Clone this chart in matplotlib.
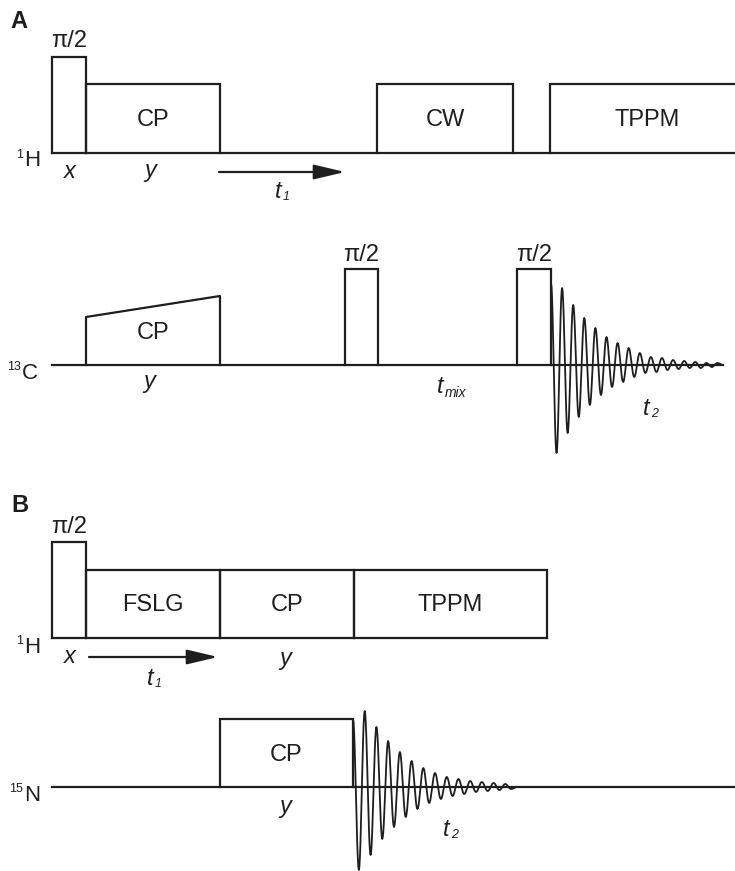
import numpy as np
import matplotlib.pyplot as plt

plt.rcParams['font.family'] = ['Liberation Sans', 'DejaVu Sans']

INK = '#1e1e1e'

# channel baselines (drawing units, y grows downward)
base_a_h, base_a_c = 153, 365
base_b_h, base_b_n = 638, 787

# rectangular pulses: (start, end, height above baseline, label)
a_h_pulses = [(52, 86, 96, ''), (86, 220, 69, 'CP'), (377, 513, 69, 'CW'), (550, 745, 69, 'TPPM')]
a_c_pulses = [(345, 378, 96, ''), (517, 551, 96, '')]
a_c_ramp = (86, 220, 48, 69)  # start, end, height left, height right
b_h_pulses = [(52, 86, 96, ''), (86, 220, 68, 'FSLG'), (220, 354, 68, 'CP'), (354, 547, 68, 'TPPM')]
b_n_pulses = [(220, 353, 68, 'CP')]

# successive extrema of the free induction decays (height above baseline)
fid_a = [82, -88, 77, -68, 60, -52, 47, -40, 37, -30, 28, -22, 22, -17, 17, -12,
         12, -8, 8, -7, 7, -5, 5, -4, 4, -3, 3, -3, 2, -2, 2, 0]
fid_b = [68, -83, 76, -68, 60, -52, 46, -40, 35, -30, 26, -22, 19, -16, 14, -12,
         10, -9, 8, -7, 6, -5, 5, -4, 4, -3, 3, -2, 0]


def draw_pulses(ax, base, pulses, label_dy=0):
    for x0, x1, h, lab in pulses:
        ax.plot([x0, x0, x1, x1], [base, base - h, base - h, base], color=INK, lw=1.6,
                solid_joinstyle='miter')
        if lab:
            ax.text((x0 + x1) / 2, base - h / 2 + label_dy, lab, ha='center', va='center',
                    fontsize=17, color=INK)


def draw_fid(ax, base, x0, x1, extrema):
    step = (x1 - x0) / (len(extrema) - 1)
    xs, ys = [], []
    for i in range(len(extrema) - 1):
        t = np.linspace(0, 1, 12)
        a, b = extrema[i], extrema[i + 1]
        xs.extend(x0 + (i + t) * step)
        ys.extend(base - (a + (b - a) * (1 - np.cos(np.pi * t)) / 2))
    ax.plot(xs, ys, color=INK, lw=1.3)


def nucleus(ax, x, y, mass, sym):
    ax.text(x, y, sym, ha='left', va='center', fontsize=16, color=INK)
    ax.text(x - 1, y - 6, mass, ha='right', va='center', fontsize=9, color=INK)


def tlabel(ax, x, y, sub, sub_size=9):
    ax.text(x, y, 't', ha='center', va='center', fontsize=17, style='italic', color=INK)
    ax.text(x + 5, y + 6, sub, ha='left', va='center', fontsize=sub_size, style='italic', color=INK)


fig = plt.figure(figsize=(7.35, 8.71), dpi=100)
ax = fig.add_axes([0, 0, 1, 1])
ax.set_xlim(0, 735)
ax.set_ylim(871, 0)
ax.axis('off')

arrow = dict(arrowstyle='-|>,head_length=1.9,head_width=0.45', color=INK, lw=1.6,
             shrinkA=0, shrinkB=0)

# ---- A ----
ax.text(19, 21, 'A', ha='center', va='center', fontsize=17, fontweight='bold', color=INK)
ax.plot([52, 735], [base_a_h, base_a_h], color=INK, lw=1.6)
draw_pulses(ax, base_a_h, a_h_pulses, label_dy=1)
ax.text(69, 41, 'π/2', ha='center', va='center', fontsize=17, color=INK)
nucleus(ax, 24, 161, '1', 'H')
ax.text(70, 171, 'x', ha='center', va='center', fontsize=17, style='italic', color=INK)
ax.text(150, 171, 'y', ha='center', va='center', fontsize=17, style='italic', color=INK)
ax.annotate('', xy=(345, 172), xytext=(219, 172), arrowprops=arrow)
tlabel(ax, 278, 191, '1')

ax.plot([52, 723], [base_a_c, base_a_c], color=INK, lw=1.6)
rx0, rx1, rh0, rh1 = a_c_ramp
ax.plot([rx0, rx0, rx1, rx1], [base_a_c, base_a_c - rh0, base_a_c - rh1, base_a_c], color=INK, lw=1.6)
ax.text((rx0 + rx1) / 2, 333, 'CP', ha='center', va='center', fontsize=17, color=INK)
draw_pulses(ax, base_a_c, a_c_pulses)
for x0, x1, h, _ in a_c_pulses:
    ax.text((x0 + x1) / 2, base_a_c - h - 14, 'π/2', ha='center', va='center', fontsize=17, color=INK)
draw_fid(ax, base_a_c, a_c_pulses[1][1], 723, fid_a)
nucleus(ax, 22, 373, '13', 'C')
ax.text(149, 381, 'y', ha='center', va='center', fontsize=17, style='italic', color=INK)
ax.text(440, 386, 't', ha='center', va='center', fontsize=17, style='italic', color=INK)
ax.text(445, 393, 'mix', ha='left', va='center', fontsize=10, style='italic', color=INK)
tlabel(ax, 646, 408, '2')

# ---- B ----
ax.text(20, 505, 'B', ha='center', va='center', fontsize=17, fontweight='bold', color=INK)
ax.plot([52, 547], [base_b_h, base_b_h], color=INK, lw=1.6)
draw_pulses(ax, base_b_h, b_h_pulses, label_dy=1)
ax.text(69, 527, 'π/2', ha='center', va='center', fontsize=17, color=INK)
nucleus(ax, 24, 647, '1', 'H')
ax.text(70, 656, 'x', ha='center', va='center', fontsize=17, style='italic', color=INK)
ax.text(285, 658, 'y', ha='center', va='center', fontsize=17, style='italic', color=INK)
ax.annotate('', xy=(218, 657), xytext=(89, 657), arrowprops=arrow)
tlabel(ax, 150, 678, '1')

ax.plot([52, 735], [base_b_n, base_b_n], color=INK, lw=1.6)
draw_pulses(ax, base_b_n, b_n_pulses, label_dy=2)
draw_fid(ax, base_b_n, b_n_pulses[0][1], 517, fid_b)
nucleus(ax, 24, 795, '15', 'N')
ax.text(285, 806, 'y', ha='center', va='center', fontsize=17, style='italic', color=INK)
tlabel(ax, 446, 829, '2')

fig.savefig('out.png', dpi=100)
